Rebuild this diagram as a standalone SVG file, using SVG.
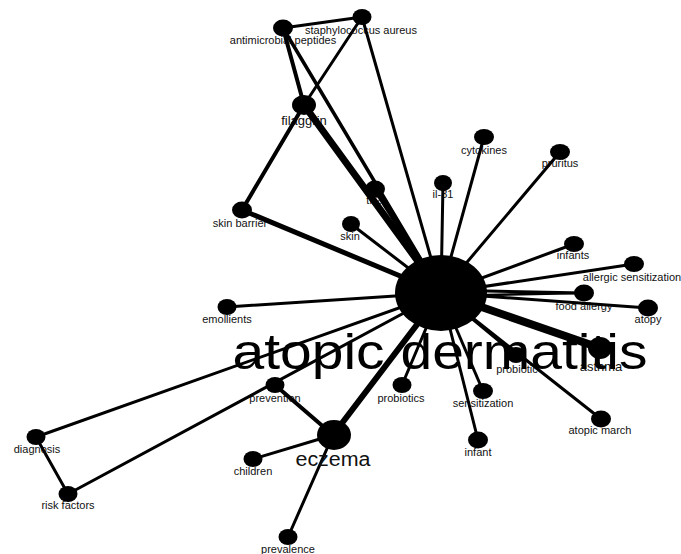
<svg xmlns="http://www.w3.org/2000/svg" width="681" height="554" viewBox="0 0 681 554">
<style>
.l{font-family:"Liberation Sans",Arial,sans-serif;font-size:11px;fill:#111;text-anchor:middle}
.e{stroke:#000;fill:none;stroke-linecap:round}
.n{fill:#000}
</style>
<rect width="681" height="554" fill="#fff"/>
<g id="labels">
<text class="l" x="283" y="44">antimicrobial peptides</text>
<text class="l" x="361" y="34">staphylococcus aureus</text>
<text class="l" x="304" y="125" style="font-size:13px">filaggrin</text>
<text class="l" x="240" y="227">skin barrier</text>
<text class="l" x="350" y="240">skin</text>
<text class="l" x="374" y="204">th2</text>
<text class="l" x="443" y="198">il-31</text>
<text class="l" x="484" y="154">cytokines</text>
<text class="l" x="560" y="167">pruritus</text>
<text class="l" x="573" y="259">infants</text>
<text class="l" x="632" y="281">allergic sensitization</text>
<text class="l" x="584" y="310">food allergy</text>
<text class="l" x="648" y="323">atopy</text>
<text class="l" x="227" y="323">emollients</text>
<text class="l" x="601" y="371" style="font-size:13px">asthma</text>
<text class="l" x="517" y="373">probiotic</text>
<text class="l" x="600" y="434">atopic march</text>
<text class="l" x="483" y="407">sensitization</text>
<text class="l" x="478" y="456">infant</text>
<text class="l" x="401" y="402">probiotics</text>
<text class="l" x="275" y="402">prevention</text>
<text class="l" x="253" y="475">children</text>
<text class="l" x="37" y="453">diagnosis</text>
<text class="l" x="68" y="509">risk factors</text>
<text class="l" x="288" y="553">prevalence</text>
</g>
<g id="connectors">
<line class="e" x1="283" y1="28" x2="362" y2="17" stroke-width="3"/>
<line class="e" x1="283" y1="28" x2="304" y2="105" stroke-width="4"/>
<line class="e" x1="362" y1="17" x2="304" y2="105" stroke-width="3"/>
<line class="e" x1="283" y1="28" x2="441" y2="293" stroke-width="3.5"/>
<line class="e" x1="362" y1="17" x2="441" y2="293" stroke-width="3"/>
<line class="e" x1="304" y1="105" x2="242" y2="210" stroke-width="4"/>
<line class="e" x1="304" y1="105" x2="441" y2="293" stroke-width="7"/>
<line class="e" x1="375" y1="189" x2="441" y2="293" stroke-width="5"/>
<line class="e" x1="242" y1="210" x2="441" y2="293" stroke-width="5"/>
<line class="e" x1="351" y1="224" x2="441" y2="293" stroke-width="3"/>
<line class="e" x1="443" y1="183" x2="441" y2="293" stroke-width="3"/>
<line class="e" x1="484" y1="137" x2="441" y2="293" stroke-width="3"/>
<line class="e" x1="560" y1="152" x2="441" y2="293" stroke-width="3"/>
<line class="e" x1="574" y1="244" x2="441" y2="293" stroke-width="3"/>
<line class="e" x1="634" y1="264" x2="441" y2="293" stroke-width="3"/>
<line class="e" x1="584" y1="293" x2="441" y2="290" stroke-width="3"/>
<line class="e" x1="584" y1="293" x2="441" y2="296" stroke-width="2.5"/>
<line class="e" x1="648" y1="308" x2="441" y2="293" stroke-width="3"/>
<line class="e" x1="227" y1="307" x2="441" y2="293" stroke-width="3"/>
<line class="e" x1="600" y1="348" x2="441" y2="293" stroke-width="8"/>
<line class="e" x1="516" y1="355" x2="441" y2="293" stroke-width="3"/>
<line class="e" x1="601" y1="419" x2="441" y2="293" stroke-width="3"/>
<line class="e" x1="483" y1="391" x2="441" y2="293" stroke-width="3"/>
<line class="e" x1="478" y1="440" x2="441" y2="293" stroke-width="3"/>
<line class="e" x1="402" y1="385" x2="441" y2="293" stroke-width="3"/>
<line class="e" x1="333" y1="435" x2="441" y2="293" stroke-width="6"/>
<line class="e" x1="36" y1="437" x2="441" y2="293" stroke-width="3"/>
<line class="e" x1="68" y1="494" x2="441" y2="293" stroke-width="3"/>
<line class="e" x1="36" y1="437" x2="68" y2="494" stroke-width="3"/>
<line class="e" x1="275" y1="385" x2="333" y2="435" stroke-width="4"/>
<line class="e" x1="253" y1="459" x2="333" y2="435" stroke-width="3"/>
<line class="e" x1="288" y1="537" x2="333" y2="435" stroke-width="3"/>
</g>
<g id="nodes">
<g id="n-atopic-dermatitis"><ellipse class="n" cx="441" cy="293" rx="46" ry="38"/></g>
<g id="n-antimicrobial-peptides"><ellipse class="n" cx="283" cy="28" rx="10" ry="8.5"/></g>
<g id="n-staphylococcus-aureus"><ellipse class="n" cx="362" cy="17" rx="9.5" ry="8"/></g>
<g id="n-filaggrin"><ellipse class="n" cx="304" cy="105" rx="12" ry="10"/></g>
<g id="n-skin-barrier"><ellipse class="n" cx="242" cy="210" rx="10" ry="8.5"/></g>
<g id="n-skin"><ellipse class="n" cx="351" cy="224" rx="9" ry="8"/></g>
<g id="n-th2"><ellipse class="n" cx="375" cy="189" rx="10" ry="8.5"/></g>
<g id="n-il-31"><ellipse class="n" cx="443" cy="183" rx="9" ry="8"/></g>
<g id="n-cytokines"><ellipse class="n" cx="484" cy="137" rx="10" ry="8"/></g>
<g id="n-pruritus"><ellipse class="n" cx="560" cy="152" rx="10" ry="8"/></g>
<g id="n-infants"><ellipse class="n" cx="574" cy="244" rx="10" ry="8"/></g>
<g id="n-allergic-sensitization"><ellipse class="n" cx="634" cy="264" rx="10" ry="8"/></g>
<g id="n-food-allergy"><ellipse class="n" cx="584" cy="293" rx="10" ry="8.5"/></g>
<g id="n-atopy"><ellipse class="n" cx="648" cy="308" rx="10" ry="8.5"/></g>
<g id="n-emollients"><ellipse class="n" cx="227" cy="307" rx="9.5" ry="8"/></g>
<g id="n-asthma"><ellipse class="n" cx="600" cy="348" rx="12" ry="11"/></g>
<g id="n-probiotic"><ellipse class="n" cx="516" cy="355" rx="9" ry="8"/></g>
<g id="n-atopic-march"><ellipse class="n" cx="601" cy="419" rx="10" ry="8.5"/></g>
<g id="n-sensitization"><ellipse class="n" cx="483" cy="391" rx="10" ry="8"/></g>
<g id="n-infant"><ellipse class="n" cx="478" cy="440" rx="10" ry="8.5"/></g>
<g id="n-probiotics"><ellipse class="n" cx="402" cy="385" rx="9.5" ry="8"/></g>
<g id="n-prevention"><ellipse class="n" cx="275" cy="385" rx="9.5" ry="8"/></g>
<g id="n-eczema"><ellipse class="n" cx="334" cy="435" rx="17" ry="15"/></g>
<g id="n-children"><ellipse class="n" cx="253" cy="459" rx="9.5" ry="8"/></g>
<g id="n-diagnosis"><ellipse class="n" cx="36" cy="437" rx="9.5" ry="8"/></g>
<g id="n-risk-factors"><ellipse class="n" cx="68" cy="494" rx="9.5" ry="8"/></g>
<g id="n-prevalence"><ellipse class="n" cx="288" cy="537" rx="9.5" ry="8"/></g>
</g>
<g id="big-labels">
<text class="l" x="440" y="369" style="font-size:50px;fill:#000" textLength="415" lengthAdjust="spacingAndGlyphs">atopic dermatitis</text>
<text class="l" x="333" y="466" style="font-size:20px" textLength="75" lengthAdjust="spacingAndGlyphs">eczema</text>
</g>
</svg>
